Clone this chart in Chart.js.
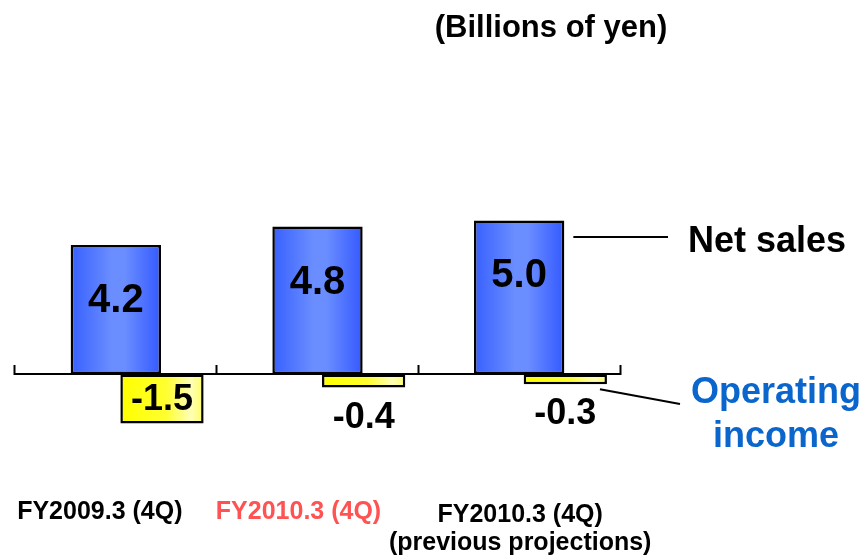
<!DOCTYPE html>
<html>
<head>
<meta charset="utf-8">
<script src="https://cdn.jsdelivr.net/npm/chart.js@4.4.1/dist/chart.umd.min.js"></script>
<style>
  html, body { margin: 0; padding: 0; background: #ffffff; }
  #wrap { width: 862px; height: 558px; }
</style>
</head>
<body>
<div id="wrap"><canvas id="c" width="862" height="558"></canvas></div>
<script>
// ---- data ----
const periods = [
  ['FY2009.3 (4Q)'],
  ['FY2010.3 (4Q)'],
  ['FY2010.3 (4Q)', '(previous projections)']
];
const periodColors = ['#000000', '#ff5353', '#000000'];
const netSales = [4.2, 4.8, 5.0];
const operatingIncome = [-1.5, -0.4, -0.3];
const unitNote = '(Billions of yen)';
const salesName = 'Net sales';
const incomeName = ['Operating', 'income'];

// ---- layout / style ----
const FONT = '"Liberation Sans", Arial, Helvetica, sans-serif';
const CAT_PCT = 0.6866;    // three slots per period: gap | net sales | operating income
const SALES_PCT = 1.957;
const INCOME_PCT = 1.804;
const PERIOD_NUDGE = [-16, -19, 1];

// pixel span of a bar in a given slot, taken from the category scale
function barSpan(chart, dataIndex, slot, pct) {
  const xs = chart.scales.x;
  const chunk = (xs.width / periods.length) * CAT_PCT / 3;
  const c = xs.getPixelForValue(dataIndex) + (slot - 1) * chunk;
  const w = chunk * pct;
  return [c - w / 2, c + w / 2];
}

function salesFill(ctx) {
  const chart = ctx.chart;
  if (!chart.chartArea || ctx.dataIndex === undefined) return '#5079ff';
  const [a, b] = barSpan(chart, ctx.dataIndex, 1, SALES_PCT);
  const g = chart.ctx.createLinearGradient(a, 0, b, 0);
  g.addColorStop(0, '#3760ff');
  g.addColorStop(0.45, '#6a8dff');
  g.addColorStop(0.6, '#6a8dff');
  g.addColorStop(1, '#3459ff');
  return g;
}

function incomeFill(ctx) {
  const chart = ctx.chart;
  if (!chart.chartArea || ctx.dataIndex === undefined) return '#ffff00';
  const [a, b] = barSpan(chart, ctx.dataIndex, 2, INCOME_PCT);
  const g = chart.ctx.createLinearGradient(a, 0, b, 0);
  g.addColorStop(0, '#ffff00');
  g.addColorStop(0.55, '#ffff30');
  g.addColorStop(0.85, '#ffffb8');
  g.addColorStop(1, '#ffff60');
  return g;
}

// text: unit note, period labels, value labels and series callouts
const annotate = {
  id: 'annotate',
  afterDraw(chart) {
    const c = chart.ctx;
    const xs = chart.scales.x;
    c.save();
    c.textAlign = 'center';
    c.textBaseline = 'alphabetic';

    c.fillStyle = '#000000';
    c.font = `bold 31px ${FONT}`;
    c.fillText(unitNote, 551, 37);

    c.font = `bold 25px ${FONT}`;
    periods.forEach((lines, i) => {
      const cx = xs.getPixelForValue(i) + PERIOD_NUDGE[i];
      const top = lines.length > 1 ? 522 : 519;
      c.fillStyle = periodColors[i];
      lines.forEach((t, k) => c.fillText(t, cx, top + k * 28));
    });

    const sales = chart.getDatasetMeta(1).data;
    const income = chart.getDatasetMeta(2).data;
    c.fillStyle = '#000000';
    c.font = `bold 40px ${FONT}`;
    sales.forEach((el, i) => c.fillText(netSales[i].toFixed(1), el.x, el.y + 67));

    c.font = `bold 36px ${FONT}`;
    income.forEach((el, i) => {
      const h = Math.abs(el.y - el.base);
      const y = h > 40 ? (el.y + el.base) / 2 + 11 : el.y + 40;
      c.fillText(operatingIncome[i].toFixed(1), el.x, y);
    });

    // callouts
    c.strokeStyle = '#000000';
    c.lineWidth = 2;
    const lastSales = sales[sales.length - 1];
    const sy = Math.round(lastSales.y + 17);
    c.beginPath();
    c.moveTo(lastSales.x + lastSales.width / 2 + 9, sy);
    c.lineTo(668, sy);
    c.stroke();
    c.textAlign = 'left';
    c.font = `bold 36px ${FONT}`;
    c.fillText(salesName, 688, sy + 15);

    const lastIncome = income[income.length - 1];
    c.beginPath();
    c.moveTo(lastIncome.x + lastIncome.width / 2 - 7, lastIncome.y + 5);
    c.lineTo(680, 404);
    c.stroke();
    c.textAlign = 'center';
    c.fillStyle = '#0a66cc';
    c.font = `bold 36px ${FONT}`;
    incomeName.forEach((t, k) => c.fillText(t, 776, 403 + k * 44));
    c.restore();
  }
};

new Chart(document.getElementById('c'), {
  type: 'bar',
  data: {
    labels: periods,
    datasets: [
      { label: '', data: periods.map(() => null), categoryPercentage: CAT_PCT },
      {
        label: salesName,
        data: netSales,
        yAxisID: 'y',
        categoryPercentage: CAT_PCT,
        barPercentage: SALES_PCT,
        backgroundColor: salesFill,
        borderColor: '#000000',
        borderWidth: 2.5,
        borderSkipped: false
      },
      {
        label: incomeName.join(' '),
        data: operatingIncome,
        yAxisID: 'y2',
        categoryPercentage: CAT_PCT,
        barPercentage: INCOME_PCT,
        backgroundColor: incomeFill,
        borderColor: '#000000',
        borderWidth: 2.5,
        borderSkipped: false
      }
    ]
  },
  options: {
    responsive: false,
    devicePixelRatio: 1,
    animation: false,
    layout: { padding: { left: 15, right: 242, top: 67, bottom: 92 } },
    plugins: { legend: { display: false }, title: { display: false }, tooltip: { enabled: false } },
    scales: {
      x: {
        position: { y: 0 },
        z: 1,
        offset: true,
        border: { display: true, color: '#000000', width: 2 },
        grid: {
          offset: true,
          drawOnChartArea: false,
          drawTicks: true,
          tickLength: -10,
          tickColor: '#000000',
          tickWidth: 2
        },
        ticks: { display: false }
      },
      y: { display: false, min: -3, max: 10 },
      y2: { display: false, min: -2.8, max: 9.4 }
    }
  },
  plugins: [annotate]
});
</script>
</body>
</html>
